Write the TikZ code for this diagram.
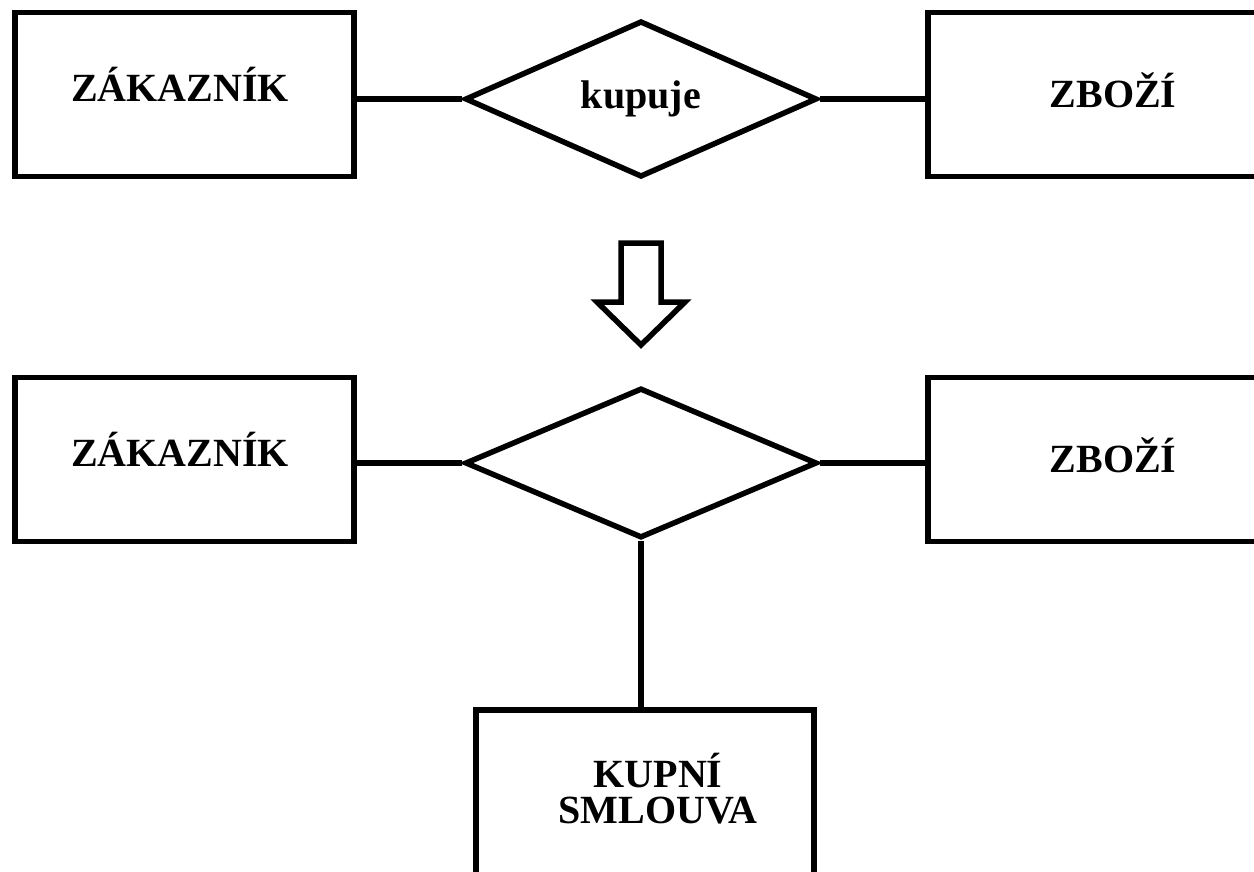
\documentclass[tikz,border=0pt]{standalone}
\usepackage{fontspec}
\setmainfont{Liberation Serif}
\usetikzlibrary{shapes.geometric}

\tikzset{
  entity/.style={draw=black, line width=5.5pt, minimum width=339pt, minimum height=164pt, inner sep=0pt},
  relation/.style={draw=black, line width=5.5pt, diamond, minimum width=352pt, minimum height=150pt,
                   inner sep=0pt, font=\fontsize{40}{36}\selectfont\bfseries},
  caption/.style={font=\fontsize{40}{36}\selectfont\bfseries, inner sep=0pt, anchor=base},
  link/.style={line width=5.5pt},
  bigarrow/.style={draw=black, fill=white, line width=5.5pt, line join=miter}
}

\begin{document}
\begin{tikzpicture}[x=1pt, y=-1pt]
  \fill[white] (0,0) rectangle (1254,872);
  \clip (0,0) rectangle (1254,872);

  % upper model: customer buys goods
  \node[entity] (zak1) at (184.5,94.5) {};
  \node[caption] (zak1t) at (180,102) {ZÁKAZNÍK};
  \node[relation] (rel1) at (641,99) {kupuje};
  \node[entity, minimum width=372pt] (zbo1) at (1114,94.5) {};
  \node[caption] (zbo1t) at (1113,108) {ZBOŽÍ};
  \draw[link] (rel1.west) -- (rel1.west -| zak1.east);
  \draw[link] (rel1.east) -- (rel1.east -| zbo1.west);

  % transformation arrow
  \draw[bigarrow] (621,243) -- (661,243) -- (661,302) -- (685,302) -- (641,345)
                  -- (597,302) -- (621,302) -- cycle;

  % lower model: relationship replaced by an entity
  \node[entity] (zak2) at (184.5,459.5) {};
  \node[caption] (zak2t) at (180,466) {ZÁKAZNÍK};
  \node[relation] (rel2) at (641,463) {};
  \node[entity, minimum width=372pt] (zbo2) at (1114,459.5) {};
  \node[caption] (zbo2t) at (1113,472) {ZBOŽÍ};
  \node[entity, minimum width=338pt, minimum height=260pt] (kup) at (645,840) {};
  \node[caption, align=center] (kupt) at (658,823) {KUPNÍ\\SMLOUVA};
  \draw[link] (rel2.west) -- (rel2.west -| zak2.east);
  \draw[link] (rel2.east) -- (rel2.east -| zbo2.west);
  \draw[link] (rel2.south) -- (rel2.south |- kup.north);
\end{tikzpicture}
\end{document}
